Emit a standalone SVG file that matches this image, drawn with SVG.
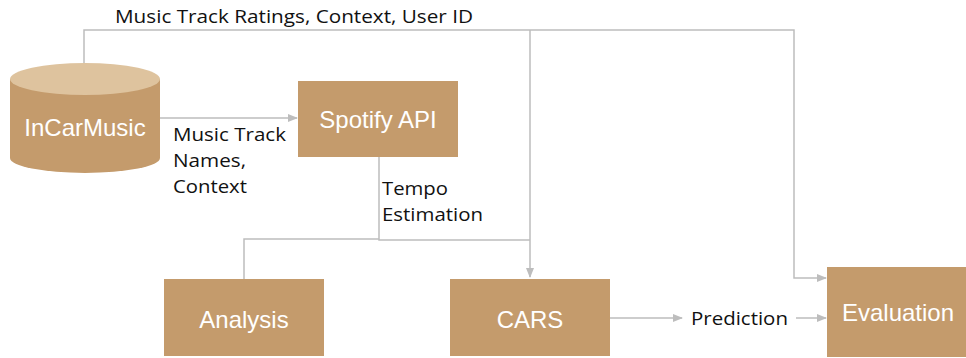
<svg xmlns="http://www.w3.org/2000/svg" width="966" height="358" viewBox="0 0 966 358">
<style>
.box{fill:#C49B6C;}
.nt{font-family:"Liberation Sans",Arial,sans-serif;font-size:24px;fill:#ffffff;text-anchor:middle;}
.lb{font-family:"Open Sans","DejaVu Sans",sans-serif;font-size:19px;fill:#111;}
.ln{fill:none;stroke:#BDBDBD;stroke-width:1.5;}
</style>
<defs>
<marker id="ah" markerWidth="10" markerHeight="8" refX="9" refY="4" orient="auto" markerUnits="userSpaceOnUse">
<path d="M0,0 L10,4 L0,8 Z" fill="#BDBDBD"/>
</marker>
</defs>
<rect width="966" height="358" fill="#ffffff"/>
<g id="connectors">
<path class="ln" d="M84,63 V30 H794 V278 H826" marker-end="url(#ah)"/>
<path class="ln" d="M530,30 V277" marker-end="url(#ah)"/>
<path class="ln" d="M160,118 H297" marker-end="url(#ah)"/>
<path class="ln" d="M379,157 V240 H530"/>
<path class="ln" d="M379,239 H244 V279"/>
<path class="ln" d="M610,318 H682" marker-end="url(#ah)"/>
<path class="ln" d="M796,318 H826" marker-end="url(#ah)"/>
<text class="lb" x="115" y="23" textLength="358" lengthAdjust="spacingAndGlyphs">Music Track Ratings, Context, User ID</text>
<text class="lb" x="173" y="141" textLength="113" lengthAdjust="spacingAndGlyphs">Music Track</text>
<text class="lb" x="173" y="167" textLength="73" lengthAdjust="spacingAndGlyphs">Names,</text>
<text class="lb" x="173" y="193" textLength="74" lengthAdjust="spacingAndGlyphs">Context</text>
<text class="lb" x="382" y="195" textLength="66" lengthAdjust="spacingAndGlyphs">Tempo</text>
<text class="lb" x="382" y="221" textLength="101" lengthAdjust="spacingAndGlyphs">Estimation</text>
<text class="lb" x="691" y="325" textLength="97" lengthAdjust="spacingAndGlyphs">Prediction</text>
</g>
<g id="InCarMusic">
<path class="box" d="M10,79 V158 A75,15 0 0 0 160,158 V79 Z"/>
<ellipse cx="85" cy="79" rx="75" ry="16" fill="#DEC39E"/>
<text class="nt" x="85" y="136">InCarMusic</text>
</g>
<g id="SpotifyAPI">
<rect class="box" x="298" y="81" width="160" height="76"/>
<text class="nt" x="378" y="128">Spotify API</text>
</g>
<g id="Analysis">
<rect class="box" x="164" y="279" width="160" height="77"/>
<text class="nt" x="244" y="328">Analysis</text>
</g>
<g id="CARS">
<rect class="box" x="450" y="279" width="160" height="77"/>
<text class="nt" x="530" y="328">CARS</text>
</g>
<g id="Evaluation">
<rect class="box" x="827" y="267" width="139" height="90"/>
<text class="nt" x="898" y="321">Evaluation</text>
</g>
</svg>
